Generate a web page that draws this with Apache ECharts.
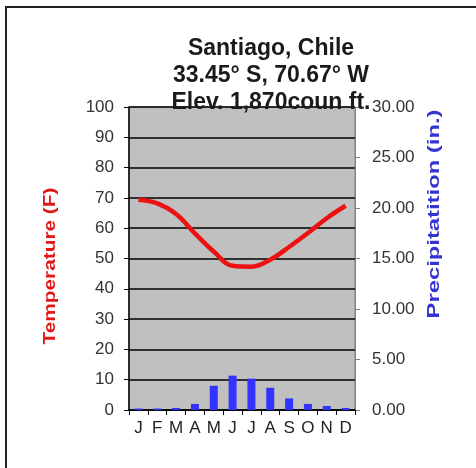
<!DOCTYPE html>
<html>
<head>
<meta charset="utf-8">
<script src="https://cdn.jsdelivr.net/npm/echarts@6/dist/echarts.min.js"></script>
<style>
html,body{margin:0;padding:0;background:#fff;}
#c{width:476px;height:468px;}
</style>
</head>
<body>
<div id="c"></div>
<script>
const months = ['J','F','M','A','M','J','J','A','S','O','N','D'];
const temperatureF = [69.4, 68.2, 64.7, 58.3, 52.3, 47.6, 47.3, 49.6, 53.8, 58.4, 63.3, 67.4];
const precipIn = [0.15, 0.15, 0.2, 0.6, 2.4, 3.4, 3.1, 2.2, 1.15, 0.6, 0.4, 0.2];
const titleLines = ['Santiago, Chile', '33.45° S, 70.67° W', 'Elev. 1,870coun ft.'];
const leftAxisName = 'Temperature (F)';
const rightAxisName = 'Precipitatition (in.)';

const FONT = 'Liberation Sans, Arial, sans-serif';
const chart = echarts.init(document.getElementById('c'), null, {renderer:'canvas'});
chart.setOption({
  backgroundColor: '#ffffff',
  animation: false,
  title: {
    text: titleLines.join('\n'),
    left: 266, top: 30, textAlign: 'center',
    textStyle: {fontFamily: FONT, fontSize: 23, fontWeight: 'bold', color: '#1a1a1a', lineHeight: 27}
  },
  graphic: [{
    type: 'polyline', shape: {points: [[6, 480], [6, 7], [480, 7]]},
    style: {stroke: '#222', lineWidth: 2, fill: null}, z: 100
  }, {
    type: 'text', x: 51, y: 266, rotation: Math.PI / 2, scaleX: 1.3, scaleY: 1,
    style: {text: leftAxisName, fill: '#e01818', font: 'bold 16px ' + FONT, textAlign: 'center', textVerticalAlign: 'middle'}
  }, {
    type: 'text', x: 434, y: 214, rotation: Math.PI / 2, scaleX: 1.4, scaleY: 1,
    style: {text: rightAxisName, fill: '#3434d0', font: 'bold 17px ' + FONT, textAlign: 'center', textVerticalAlign: 'middle'}
  }],
  grid: {left: 129, right: 121, top: 107, bottom: 58, show: true, backgroundColor: '#c0c0c0', borderColor: '#808080', borderWidth: 1},
  xAxis: {
    type: 'category', data: months, boundaryGap: true,
    axisLine: {lineStyle: {color: '#000', width: 1.5}},
    axisTick: {show: true, length: 5, lineStyle: {color: '#000'}},
    axisLabel: {color: '#222', fontSize: 17, fontFamily: FONT, margin: 10, interval: 0}
  },
  yAxis: [{
    type: 'value', min: 0, max: 100, interval: 10, position: 'left',
    axisLine: {show: true, lineStyle: {color: '#000', width: 1.5}},
    axisTick: {show: true, length: 5, lineStyle: {color: '#000'}},
    axisLabel: {color: '#333', fontSize: 17, fontFamily: FONT, margin: 15},
    splitLine: {show: true, lineStyle: {color: '#000', width: 1.5}}
  }, {
    type: 'value', min: 0, max: 30, interval: 5, position: 'right',
    axisLine: {show: true, lineStyle: {color: '#808080', width: 1}},
    axisTick: {show: true, length: 5, lineStyle: {color: '#808080'}},
    axisLabel: {color: '#333', fontSize: 17, fontFamily: FONT, margin: 17, formatter: v => v.toFixed(2)},
    splitLine: {show: false}
  }],
  series: [{
    type: 'bar', yAxisIndex: 1, data: precipIn, barWidth: 8,
    itemStyle: {color: '#3333ff'}
  }, {
    type: 'line', yAxisIndex: 0, data: temperatureF, smooth: 0.4, symbol: 'none',
    lineStyle: {color: '#ee1111', width: 4.5}
  }]
});
</script>
</body>
</html>
